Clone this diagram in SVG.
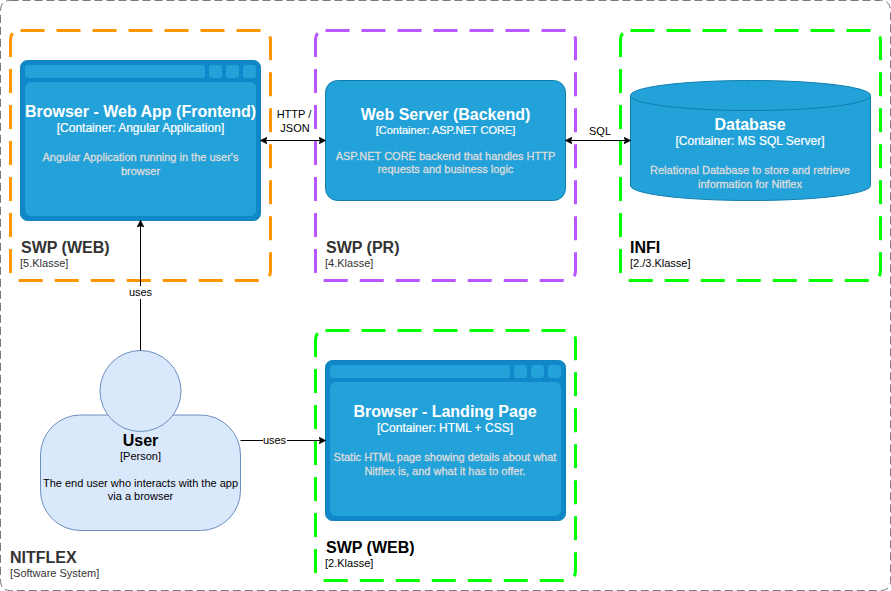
<svg xmlns="http://www.w3.org/2000/svg" width="891" height="591" viewBox="0 0 891 591">
<style>
text{font-family:"Liberation Sans",Arial,sans-serif;text-anchor:middle}
.b{font-weight:bold}
.t{font-size:16px;font-weight:bold;fill:#fff}
.s{font-size:12px;fill:#fff;stroke:#fff;stroke-width:.2}
.s11{font-size:11px}
.d{font-size:11px;fill:#dcdcdc;stroke:#dcdcdc;stroke-width:.3}
.gt{font-size:16px;font-weight:bold;text-anchor:start}
.gs{font-size:11px;text-anchor:start}
.gray{fill:#333}
.blk{fill:#000}
.grp{fill:none;stroke-width:3;stroke-dasharray:24 12}
.box{fill:#23a2d9;stroke:#0e7dad}
.win{fill:#1087c8;stroke:#0f82bd}
.pane{fill:#23a2d9}
.lb{font-size:11px;fill:#000}
.ln{fill:none;stroke:#000;stroke-width:1}
</style>
<defs>
<marker id="a" viewBox="0 0 10 10" refX="9" refY="5" markerWidth="7" markerHeight="7" markerUnits="userSpaceOnUse" orient="auto-start-reverse"><path d="M0 0L10 5L0 10L2.5 5Z" fill="#000" stroke="#000"/></marker>
</defs>
<rect width="891" height="591" fill="#fff"/>
<g id="nitflex">
<path d="M10.5 0.5L880.5 0.5Q890.5 0.5 890.5 10.5L890.5 580.5Q890.5 590.5 880.5 590.5L10.5 590.5Q0.5 590.5 0.5 580.5L0.5 10.5Q0.5 0.5 10.5 0.5Z" fill="none" stroke="#7a7a7a" stroke-dasharray="8 4"/>
<text x="10" y="563" class="gt gray">NITFLEX</text>
<text x="10" y="577" class="gs gray">[Software System]</text>
</g>
<g id="group-web5">
<path class="grp" stroke="#ff9500" d="M20.5 30.5L260.5 30.5Q270.5 30.5 270.5 40.5L270.5 270.5Q270.5 280.5 260.5 280.5L20.5 280.5Q10.5 280.5 10.5 270.5L10.5 40.5Q10.5 30.5 20.5 30.5Z"/>
<text x="21" y="253" class="gt gray">SWP (WEB)</text>
<text x="20" y="267" class="gs gray">[5.Klasse]</text>
</g>
<g id="group-pr">
<path class="grp" stroke="#b856ff" d="M325.5 30.5L565.5 30.5Q575.5 30.5 575.5 40.5L575.5 270.5Q575.5 280.5 565.5 280.5L325.5 280.5Q315.5 280.5 315.5 270.5L315.5 40.5Q315.5 30.5 325.5 30.5Z"/>
<text x="326" y="253" class="gt gray">SWP (PR)</text>
<text x="325" y="267" class="gs gray">[4.Klasse]</text>
</g>
<g id="group-infi">
<path class="grp" stroke="#00ff00" d="M630.5 30.5L870.5 30.5Q880.5 30.5 880.5 40.5L880.5 270.5Q880.5 280.5 870.5 280.5L630.5 280.5Q620.5 280.5 620.5 270.5L620.5 40.5Q620.5 30.5 630.5 30.5Z"/>
<text x="630" y="253" class="gt blk">INFI</text>
<text x="630" y="267" class="gs blk">[2./3.Klasse]</text>
</g>
<g id="group-web2">
<path class="grp" stroke="#00ff00" d="M325.5 330.5L565.5 330.5Q575.5 330.5 575.5 340.5L575.5 570.5Q575.5 580.5 565.5 580.5L325.5 580.5Q315.5 580.5 315.5 570.5L315.5 340.5Q315.5 330.5 325.5 330.5Z"/>
<text x="326" y="553" class="gt blk">SWP (WEB)</text>
<text x="325" y="567" class="gs blk">[2.Klasse]</text>
</g>
<g id="browser-app">
<rect class="win" x="20.5" y="60.5" width="240" height="160" rx="7"/>
<rect class="pane" x="25" y="65" width="180" height="13" rx="3"/>
<rect class="pane" x="209" y="65" width="13" height="13" rx="3"/>
<rect class="pane" x="226" y="65" width="13" height="13" rx="3"/>
<rect class="pane" x="243" y="65" width="13" height="13" rx="3"/>
<rect class="pane" x="25" y="82" width="231" height="134" rx="6"/>
<text x="140.5" y="117" class="t">Browser - Web App (Frontend)</text>
<text x="140.5" y="132" class="s">[Container: Angular Application]</text>
<text x="140.5" y="161" class="d">Angular Application running in the user's</text>
<text x="140.5" y="175" class="d">browser</text>
</g>
<g id="web-server">
<rect class="box" x="325.5" y="80.5" width="240" height="120" rx="12"/>
<text x="445.5" y="120" class="t">Web Server (Backend)</text>
<text x="445.5" y="134" class="s s11">[Container: ASP.NET CORE]</text>
<text x="445.5" y="160" class="d">ASP.NET CORE backend that handles HTTP</text>
<text x="445.5" y="173" class="d">requests and business logic</text>
</g>
<g id="database">
<path class="box" d="M630.5 95.5C630.5 87 684 80.5 750.5 80.5S870.5 87 870.5 95.5L870.5 185.5C870.5 194 817 200.5 750.5 200.5S630.5 194 630.5 185.5Z"/>
<path fill="none" stroke="#0e7dad" d="M630.5 95.5C630.5 104 684 110.5 750.5 110.5S870.5 104 870.5 95.5"/>
<text x="750" y="130" class="t">Database</text>
<text x="750" y="145" class="s">[Container: MS SQL Server]</text>
<text x="750" y="174" class="d">Relational Database to store and retrieve</text>
<text x="750" y="188" class="d">information for Nitflex</text>
</g>
<g id="browser-landing">
<rect class="win" x="325.5" y="360.5" width="240" height="160" rx="7"/>
<rect class="pane" x="330" y="365" width="180" height="13" rx="3"/>
<rect class="pane" x="514" y="365" width="13" height="13" rx="3"/>
<rect class="pane" x="531" y="365" width="13" height="13" rx="3"/>
<rect class="pane" x="548" y="365" width="13" height="13" rx="3"/>
<rect class="pane" x="330" y="382" width="231" height="134" rx="6"/>
<text x="445" y="417" class="t">Browser - Landing Page</text>
<text x="445" y="432" class="s">[Container: HTML + CSS]</text>
<text x="445" y="461" class="d">Static HTML page showing details about what</text>
<text x="445" y="475" class="d">Nitflex is, and what it has to offer.</text>
</g>
<g id="user">
<rect x="40.5" y="415" width="200" height="115.5" rx="40" fill="#dae8fc" stroke="#6c8ebf"/>
<circle cx="140.5" cy="391" r="40.5" fill="#dae8fc" stroke="#6c8ebf"/>
<text x="140.5" y="446" font-size="16" class="b blk">User</text>
<text x="140.5" y="460" font-size="11" class="blk">[Person]</text>
<text x="140.5" y="487" font-size="11" class="blk">The end user who interacts with the app</text>
<text x="140.5" y="500" font-size="11" class="blk">via a browser</text>
</g>
<g id="connectors">
<path class="ln" marker-end="url(#a)" d="M140.5 350.5L140.5 221"/>
<path class="ln" marker-start="url(#a)" marker-end="url(#a)" d="M261 140.5L325 140.5"/>
<path class="ln" marker-start="url(#a)" marker-end="url(#a)" d="M566 140.5L630 140.5"/>
<path class="ln" marker-end="url(#a)" d="M240.5 440.5L325 440.5"/>
<rect x="128" y="286" width="25" height="13" fill="#fff"/>
<text x="140.5" y="296" class="lb">uses</text>
<text x="294" y="118" class="lb">HTTP /</text>
<text x="295" y="132" class="lb">JSON</text>
<text x="600" y="135" class="lb">SQL</text>
<rect x="263" y="434" width="24" height="13" fill="#fff"/>
<text x="274.5" y="444" class="lb">uses</text>
</g>
</svg>
